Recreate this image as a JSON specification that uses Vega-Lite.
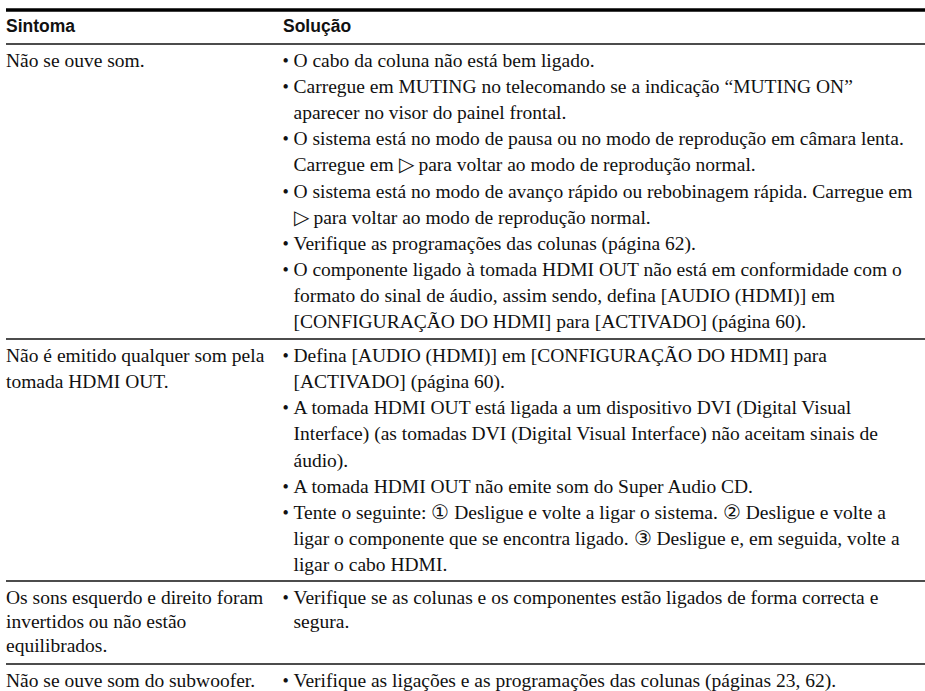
{
  "$schema": "https://vega.github.io/schema/vega-lite/v6.json",
  "width": 919,
  "height": 691,
  "padding": {"left": 6, "top": 0, "right": 0, "bottom": 0},
  "autosize": {"type": "none"},
  "background": "white",
  "config": {"view": {"stroke": null}},
  "datasets": {
    "cells": [
      {"line": 0, "col": 0, "kind": "header", "text": "Sintoma"},
      {"line": 0, "col": 1, "kind": "header", "text": "Solução"},
      {"line": 1, "col": 0, "kind": "symptom", "text": "Não se ouve som."},
      {"line": 1, "col": 1, "kind": "solution", "bullet": true, "text": "O cabo da coluna não está bem ligado."},
      {"line": 2, "col": 1, "kind": "solution", "bullet": true, "text": "Carregue em MUTING no telecomando se a indicação “MUTING ON”"},
      {"line": 3, "col": 1, "kind": "solution", "bullet": false, "text": "aparecer no visor do painel frontal."},
      {"line": 4, "col": 1, "kind": "solution", "bullet": true, "text": "O sistema está no modo de pausa ou no modo de reprodução em câmara lenta."},
      {"line": 5, "col": 1, "kind": "solution", "bullet": false, "text": "Carregue em ▷ para voltar ao modo de reprodução normal."},
      {"line": 6, "col": 1, "kind": "solution", "bullet": true, "text": "O sistema está no modo de avanço rápido ou rebobinagem rápida. Carregue em"},
      {"line": 7, "col": 1, "kind": "solution", "bullet": false, "text": "▷ para voltar ao modo de reprodução normal."},
      {"line": 8, "col": 1, "kind": "solution", "bullet": true, "text": "Verifique as programações das colunas (página 62)."},
      {"line": 9, "col": 1, "kind": "solution", "bullet": true, "text": "O componente ligado à tomada HDMI OUT não está em conformidade com o"},
      {"line": 10, "col": 1, "kind": "solution", "bullet": false, "text": "formato do sinal de áudio, assim sendo, defina [AUDIO (HDMI)] em"},
      {"line": 11, "col": 1, "kind": "solution", "bullet": false, "text": "[CONFIGURAÇÃO DO HDMI] para [ACTIVADO] (página 60)."},
      {"line": 12, "col": 0, "kind": "symptom", "text": "Não é emitido qualquer som pela"},
      {"line": 13, "col": 0, "kind": "symptom", "text": "tomada HDMI OUT."},
      {"line": 12, "col": 1, "kind": "solution", "bullet": true, "text": "Defina [AUDIO (HDMI)] em [CONFIGURAÇÃO DO HDMI] para"},
      {"line": 13, "col": 1, "kind": "solution", "bullet": false, "text": "[ACTIVADO] (página 60)."},
      {"line": 14, "col": 1, "kind": "solution", "bullet": true, "text": "A tomada HDMI OUT está ligada a um dispositivo DVI (Digital Visual"},
      {"line": 15, "col": 1, "kind": "solution", "bullet": false, "text": "Interface) (as tomadas DVI (Digital Visual Interface) não aceitam sinais de"},
      {"line": 16, "col": 1, "kind": "solution", "bullet": false, "text": "áudio)."},
      {"line": 17, "col": 1, "kind": "solution", "bullet": true, "text": "A tomada HDMI OUT não emite som do Super Audio CD."},
      {"line": 18, "col": 1, "kind": "solution", "bullet": true, "text": "Tente o seguinte: ① Desligue e volte a ligar o sistema. ② Desligue e volte a"},
      {"line": 19, "col": 1, "kind": "solution", "bullet": false, "text": "ligar o componente que se encontra ligado. ③ Desligue e, em seguida, volte a"},
      {"line": 20, "col": 1, "kind": "solution", "bullet": false, "text": "ligar o cabo HDMI."},
      {"line": 21, "col": 0, "kind": "symptom", "text": "Os sons esquerdo e direito foram"},
      {"line": 22, "col": 0, "kind": "symptom", "text": "invertidos ou não estão"},
      {"line": 23, "col": 0, "kind": "symptom", "text": "equilibrados."},
      {"line": 21, "col": 1, "kind": "solution", "bullet": true, "text": "Verifique se as colunas e os componentes estão ligados de forma correcta e"},
      {"line": 22, "col": 1, "kind": "solution", "bullet": false, "text": "segura."},
      {"line": 24, "col": 0, "kind": "symptom", "text": "Não se ouve som do subwoofer."},
      {"line": 24, "col": 1, "kind": "solution", "bullet": true, "text": "Verifique as ligações e as programações das colunas (páginas 23, 62)."}
    ],
    "rules": [
      {"line": -0.5, "weight": "thick"},
      {"line": 0.5, "weight": "thin"},
      {"line": 11.5, "weight": "thin"},
      {"line": 20.5, "weight": "thin"},
      {"line": 23.5, "weight": "thin"}
    ]
  },
  "encoding": {
    "y": {
      "field": "line",
      "type": "quantitative",
      "axis": null,
      "scale": {
        "domain": [-0.5, 0, 0.5, 1, 11, 11.5, 12, 20, 20.5, 21, 23, 23.5, 24],
        "range": [10, 27, 44, 61, 322, 339, 356, 565, 581, 598, 646, 664, 681],
        "zero": false,
        "nice": false
      }
    }
  },
  "layer": [
    {
      "data": {"name": "rules"},
      "transform": [{"filter": "datum.weight === 'thick'"}],
      "mark": {"type": "rule", "color": "#000000", "strokeWidth": 3.5},
      "encoding": {}
    },
    {
      "data": {"name": "rules"},
      "transform": [{"filter": "datum.weight === 'thin'"}],
      "mark": {"type": "rule", "color": "#111111", "strokeWidth": 1.3},
      "encoding": {}
    },
    {
      "data": {"name": "cells"},
      "transform": [{"filter": "datum.kind === 'header'"}],
      "mark": {"type": "text", "align": "left", "baseline": "middle", "font": "Liberation Sans", "fontWeight": "bold", "fontSize": 17.5, "color": "#111111"},
      "encoding": {
        "x": {"field": "col", "type": "quantitative", "axis": null, "scale": {"domain": [0, 1], "range": [0, 277], "zero": false, "nice": false}},
        "text": {"field": "text"}
      }
    },
    {
      "data": {"name": "cells"},
      "transform": [{"filter": "datum.kind === 'symptom'"}],
      "mark": {"type": "text", "align": "left", "baseline": "middle", "font": "Liberation Serif", "fontSize": 19.5, "color": "#111111"},
      "encoding": {
        "x": {"field": "col", "type": "quantitative", "axis": null, "scale": {"domain": [0, 1], "range": [0, 277], "zero": false, "nice": false}},
        "text": {"field": "text"}
      }
    },
    {
      "data": {"name": "cells"},
      "transform": [{"filter": "datum.kind === 'solution'"}],
      "mark": {"type": "text", "align": "left", "baseline": "middle", "font": "Liberation Serif", "fontSize": 19.5, "color": "#111111", "dx": 10.5},
      "encoding": {
        "x": {"field": "col", "type": "quantitative", "axis": null, "scale": {"domain": [0, 1], "range": [0, 277], "zero": false, "nice": false}},
        "text": {"field": "text"}
      }
    },
    {
      "data": {"name": "cells"},
      "transform": [{"filter": "datum.kind === 'solution' && datum.bullet"}],
      "mark": {"type": "text", "align": "left", "baseline": "middle", "font": "Liberation Serif", "fontSize": 18, "color": "#111111", "text": "•", "dx": -0.5, "dy": 1},
      "encoding": {
        "x": {"field": "col", "type": "quantitative", "axis": null, "scale": {"domain": [0, 1], "range": [0, 277], "zero": false, "nice": false}}
      }
    }
  ]
}
